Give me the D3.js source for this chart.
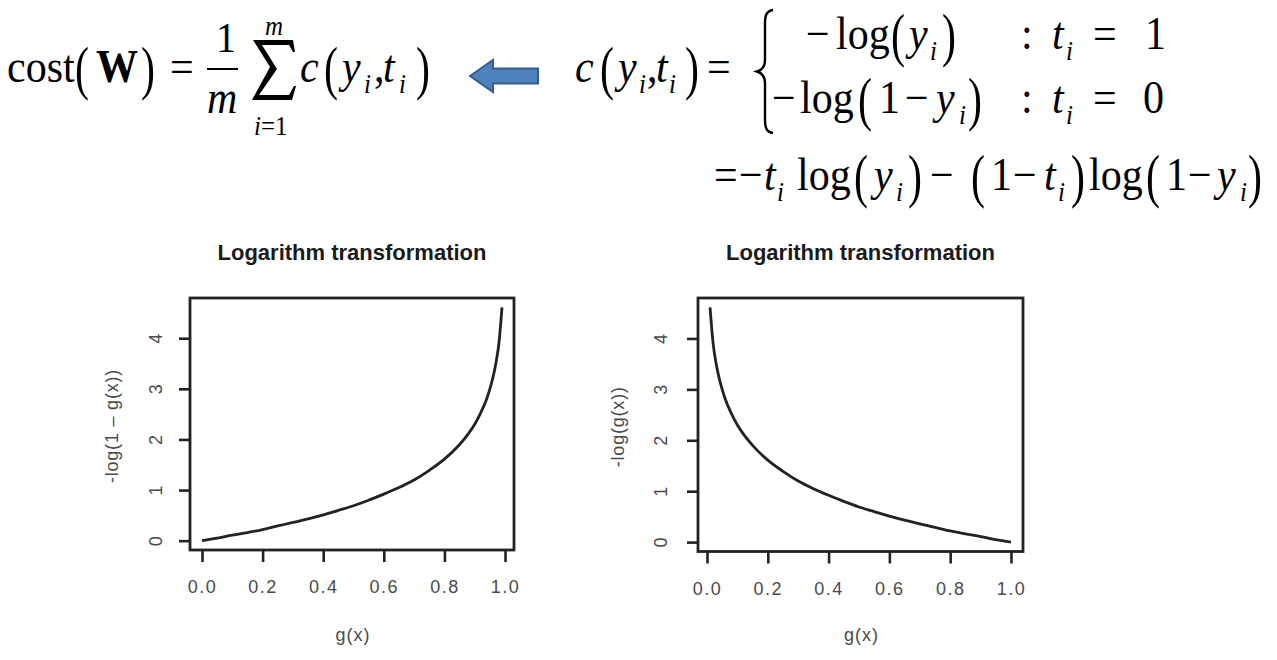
<!DOCTYPE html>
<html><head><meta charset="utf-8">
<script src="https://cdn.jsdelivr.net/npm/d3@7"></script>
<style>body{margin:0;background:#fff;} svg{display:block;}</style>
</head><body><svg id="c" width="1277" height="660"></svg>
<script>
// ---------- data ----------
const leftX  = [0.00,0.05,0.10,0.15,0.20,0.25,0.30,0.35,0.40,0.45,0.50,0.55,0.60,0.65,0.70,0.75,0.80,0.85,0.88,0.90,0.92,0.94,0.95,0.96,0.97,0.98,0.99];
const leftY  = [0.00,0.05,0.11,0.16,0.22,0.29,0.36,0.43,0.51,0.60,0.69,0.80,0.92,1.05,1.20,1.39,1.61,1.90,2.12,2.30,2.53,2.81,3.00,3.22,3.51,3.91,4.61];
const rightX = [0.01,0.02,0.03,0.04,0.05,0.06,0.08,0.10,0.12,0.15,0.20,0.25,0.30,0.35,0.40,0.45,0.50,0.55,0.60,0.65,0.70,0.75,0.80,0.85,0.90,0.95,1.00];
const rightY = [4.61,3.91,3.51,3.22,3.00,2.81,2.53,2.30,2.12,1.90,1.61,1.39,1.20,1.05,0.92,0.80,0.69,0.60,0.51,0.43,0.36,0.29,0.22,0.16,0.11,0.05,0.00];
const xTicks = [0.0,0.2,0.4,0.6,0.8,1.0];
const yTicks = [0,1,2,3,4];
const titles = ["Logarithm transformation","Logarithm transformation"];
const xLabels = ["g(x)","g(x)"];
const yLabels = ["-log(1 \u2013 g(x))","-log(g(x))"];

const svg = d3.select("#c");
svg.append("rect").attr("width",1277).attr("height",660).attr("fill","#fff");

// ---------- plots ----------
const panels = [
  {xs:leftX, ys:leftY, box:{x0:190,x1:514,y0:298,y1:550}, ylabOff:34, title:titles[0], xl:xLabels[0], yl:yLabels[0], ylx:112},
  {xs:rightX, ys:rightY, box:{x0:698,x1:1023,y0:298,y1:551.5}, ylabOff:37, title:titles[1], xl:xLabels[1], yl:yLabels[1], ylx:618}
];
const ink = "#222";
const sans = "'Liberation Sans', Arial, Helvetica, sans-serif";
function pad(ext){ const r = ext[1]-ext[0]; return [ext[0]-0.04*r, ext[1]+0.04*r]; }

panels.forEach(p => {
  const b = p.box;
  const x = d3.scaleLinear().domain(pad(d3.extent(p.xs))).range([b.x0,b.x1]);
  const y = d3.scaleLinear().domain(pad(d3.extent(p.ys))).range([b.y1,b.y0]);
  const g = svg.append("g");
  const cx = (b.x0+b.x1)/2;

  g.append("text").attr("x",cx).attr("y",260).attr("text-anchor","middle")
    .attr("font-family",sans).attr("font-weight","bold").attr("font-size",22).attr("fill","#1a1a1a")
    .text(p.title);

  const xa = g.append("g").attr("transform",`translate(0,${b.y1})`)
    .call(d3.axisBottom(x).tickValues(xTicks).tickSize(12).tickFormat(d3.format(".1f")));
  xa.select(".domain").remove();
  xa.selectAll(".tick line").attr("stroke",ink).attr("stroke-width",2.6);
  xa.selectAll(".tick text").attr("y",43).attr("dy",null).attr("fill","#4a4a4a")
    .attr("font-family",sans).attr("font-size",18).attr("letter-spacing","1.5px");

  const ya = g.append("g").attr("transform",`translate(${b.x0},0)`)
    .call(d3.axisLeft(y).tickValues(yTicks).tickSize(11).tickFormat(d3.format("d")));
  ya.select(".domain").remove();
  ya.selectAll(".tick line").attr("stroke",ink).attr("stroke-width",2.6);
  ya.selectAll(".tick text").attr("x",null).attr("dy",null).attr("y",null)
    .attr("transform",`translate(${-p.ylabOff},0) rotate(-90)`)
    .attr("text-anchor","middle").attr("dominant-baseline","central")
    .attr("fill","#4a4a4a").attr("font-family",sans).attr("font-size",18);

  g.append("rect").attr("x",b.x0).attr("y",b.y0).attr("width",b.x1-b.x0).attr("height",b.y1-b.y0)
    .attr("fill","none").attr("stroke",ink).attr("stroke-width",2.8);

  const line = d3.line().x(d=>x(d[0])).y(d=>y(d[1])).curve(d3.curveMonotoneX);
  g.append("path").datum(d3.zip(p.xs,p.ys)).attr("d",line)
    .attr("fill","none").attr("stroke",ink).attr("stroke-width",2.8).attr("stroke-linejoin","round");

  g.append("text").attr("x",cx+1).attr("y",641).attr("text-anchor","middle")
    .attr("font-family",sans).attr("font-size",18).attr("fill","#4a4a4a").attr("letter-spacing","1px").text(p.xl);
  g.append("text").attr("transform",`translate(${p.ylx},${(b.y0+b.y1)/2+2}) rotate(-90)`)
    .attr("text-anchor","middle").attr("dominant-baseline","central")
    .attr("font-family",sans).attr("font-size",18).attr("fill","#4a4a4a").attr("letter-spacing","0.8px").text(p.yl);
});

// ---------- formulas ----------
const fg = svg.append("g").attr("fill","#000");
const serif = "'Liberation Serif','Times New Roman',serif";
const SY = 1.08;
function tx(str, x, y, o={}) {
  fg.append("text").attr("transform",`translate(${x},${y}) scale(${o.sx||1},${o.sy||SY})`)
    .attr("font-family",serif).attr("font-size",o.size||42)
    .attr("font-style",o.it?"italic":"normal").attr("font-weight",o.b?"bold":"normal")
    .text(str);
}
function par(ch,x,base){ tx(ch,x,base+6,{sy:1.4}); }
function sub(x,base){ tx("i",x,base+11,{it:true,size:25}); }

// cost(W) = 1/m sum c(y_i,t_i)
tx("cost",7,82);
par("(",75,82); tx("W",96,82,{b:true}); par(")",141,82);
tx("=",170,82);
tx("1",216,52,{size:40});
fg.append("line").attr("x1",207).attr("x2",238).attr("y1",69).attr("y2",69).attr("stroke","#000").attr("stroke-width",2);
tx("m",207,113,{it:true});
// summation sign drawn as a shape
fg.append("path").attr("d",d3.line()([[253,40],[293,40],[295,52],[293,52],[289,45],[262,45],[277,69],[259,95],[289,95],[294,86],[296,86],[292,100],[252,100],[270,67]])+"Z")
  .attr("fill","#000");
tx("m",265,35,{it:true,size:25});
tx("i",254,135,{it:true,size:25}); tx("=1",261,135,{size:25});
tx("c",300,82,{it:true});
par("(",324,82); tx("y",342,82,{it:true}); sub(364,82); tx(",",374,82);
tx("t",383,82,{it:true}); sub(399,82); par(")",416,82);

// arrow
const ay = 76;
fg.append("path").attr("d",d3.line()([[470,ay],[493,ay-16],[493,ay-7.5],[538,ay-7.5],[538,ay+7.5],[493,ay+7.5],[493,ay+16]])+"Z")
  .attr("fill","#4F81BD").attr("stroke","#385D8A").attr("stroke-width",2);

// c(y_i,t_i) = { ...
tx("c",575,82,{it:true});
par("(",600,82); tx("y",618,82,{it:true}); sub(639,82); tx(",",647,82);
tx("t",656,82,{it:true}); sub(669,82); par(")",685,82);
tx("=",707,82);
fg.append("path").attr("d","M773,10 C766,11 765,16 765,24 L765,60 C765,67 762,70 757,71.5 C762,73 765,76 765,83 L765,119 C765,127 766,132 773,133")
  .attr("fill","none").attr("stroke","#000").attr("stroke-width",2.4);

// row 1
let B = 49;
tx("\u2212",806,B); tx("log",836,B); par("(",891,B); tx("y",909,B,{it:true}); sub(930,B); par(")",942,B);
tx(":",1021,B); tx("t",1052,B,{it:true}); sub(1066,B); tx("=",1093,B); tx("1",1145,B);
// row 2
B = 113;
tx("\u2212",772,B); tx("log",800,B); par("(",858,B); tx("1",879,B); tx("\u2212",905,B);
tx("y",936,B,{it:true}); sub(959,B); par(")",968,B);
tx(":",1021,B); tx("t",1052,B,{it:true}); sub(1066,B); tx("=",1093,B); tx("0",1143,B);
// row 3
B = 190;
tx("=",714,B); tx("\u2212",739,B); tx("t",764,B,{it:true}); sub(777,B);
tx("log",797,B); par("(",854,B); tx("y",874,B,{it:true}); sub(896,B); par(")",908,B);
tx("\u2212",930,B); par("(",971,B); tx("1",991,B); tx("\u2212",1013,B);
tx("t",1044,B,{it:true}); sub(1058,B); par(")",1071,B);
tx("log",1089,B); par("(",1146,B); tx("1",1166,B); tx("\u2212",1188,B);
tx("y",1217,B,{it:true}); sub(1240,B); par(")",1248,B);
</script></body></html>
